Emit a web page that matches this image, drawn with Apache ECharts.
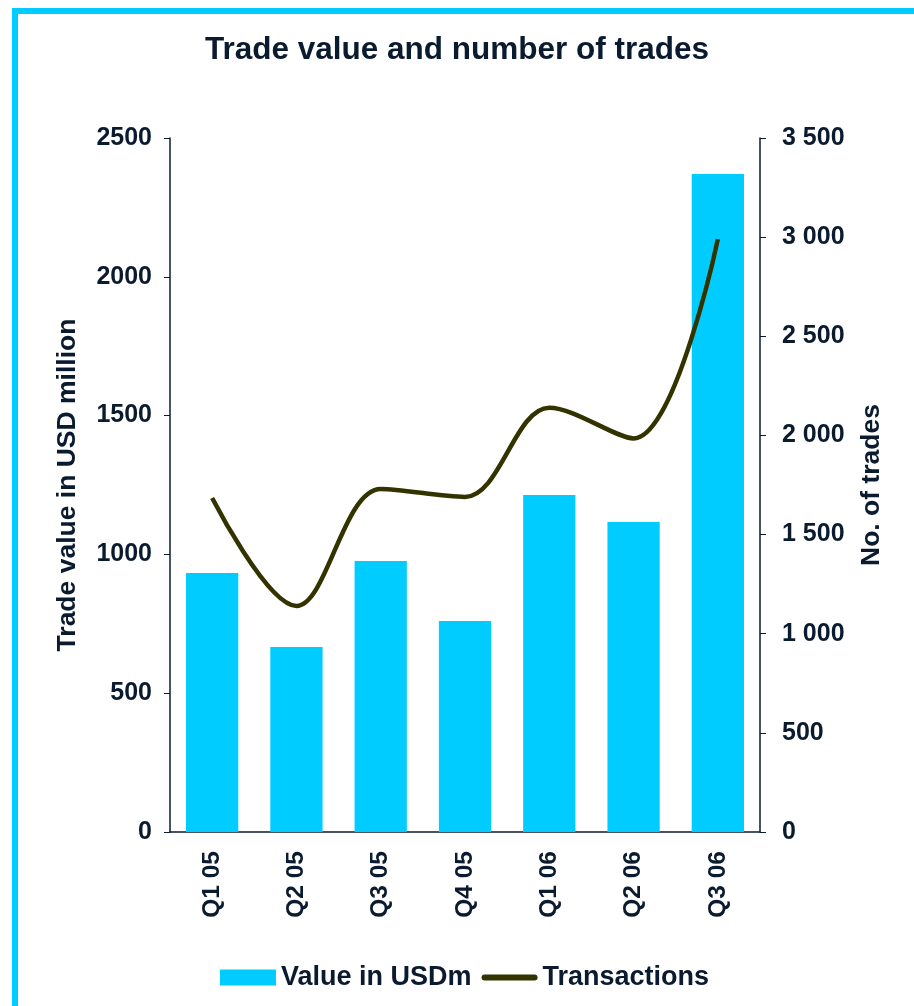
<!DOCTYPE html>
<html><head><meta charset="utf-8">
<script src="https://cdn.jsdelivr.net/npm/echarts@6/dist/echarts.min.js"></script>
<style>
html,body{margin:0;padding:0;background:#fff;}
#frame{position:absolute;left:12px;top:8px;width:914px;height:1006px;border-top:6px solid #00CCFF;border-left:6px solid #00CCFF;box-sizing:border-box;}
#chart{position:absolute;left:0;top:0;width:914px;height:1006px;}
</style></head>
<body>
<div id="frame"></div>
<div id="chart"></div>
<script>
const categories = ['Q1 05','Q2 05','Q3 05','Q4 05','Q1 06','Q2 06','Q3 06'];
const valueUSDm = [933, 666, 976, 760, 1214, 1117, 2370];
const transactions = [1684, 1140, 1730, 1690, 2140, 1985, 2990];
const txt = '#0B1B2F';
const font = '"Liberation Sans", Arial, sans-serif';
const chart = echarts.init(document.getElementById('chart'));
chart.setOption({
  backgroundColor: 'transparent',
  animation: false,
  textStyle: {fontFamily: font},
  title: {text: 'Trade value and number of trades', left: 'center', top: 29,
    textStyle: {fontSize: 31.5, fontWeight: 'bold', color: txt, fontFamily: font}},
  grid: {left: 170, right: 154, top: 138, bottom: 174},
  legend: {top: 964, left: 220, padding: 0, itemGap: 10, itemWidth: 56, itemHeight: 16,
    textStyle: {fontSize: 27, fontWeight: 'bold', color: txt, fontFamily: font, padding: [0, 0, 0, 0]},
    data: [{name: 'Value in USDm', icon: 'rect'},
           {name: 'Transactions', icon: 'path://M3,0 L53,0 A3,3 0 0 1 53,6 L3,6 A3,3 0 0 1 3,0 Z'}]},
  xAxis: {type: 'category', data: categories,
    axisLine: {lineStyle: {color: txt, width: 1.5}},
    axisTick: {show: false},
    axisLabel: {rotate: 90, fontSize: 24.5, fontWeight: 'bold', color: txt, margin: 19}},
  yAxis: [
    {type: 'value', min: 0, max: 2500, interval: 500, position: 'left',
      name: 'Trade value in USD million', nameLocation: 'middle', nameGap: 89, nameRotate: 90,
      nameTextStyle: {fontSize: 26.5, fontWeight: 'bold', color: txt},
      axisLine: {show: true, lineStyle: {color: txt, width: 1.5}},
      axisTick: {show: true, length: 6, lineStyle: {color: txt}},
      splitLine: {show: false},
      axisLabel: {fontSize: 25, fontWeight: 'bold', color: txt, margin: 18, formatter: v => String(v)}},
    {type: 'value', min: 0, max: 3500, interval: 500, position: 'right',
      name: 'No. of trades', nameLocation: 'middle', nameGap: 98, nameRotate: 90,
      nameTextStyle: {fontSize: 26.5, fontWeight: 'bold', color: txt},
      axisLine: {show: true, lineStyle: {color: txt, width: 1.5}},
      axisTick: {show: true, length: 6, lineStyle: {color: txt}},
      splitLine: {show: false},
      axisLabel: {fontSize: 25, fontWeight: 'bold', color: txt, margin: 22,
        formatter: v => String(v).replace(/\B(?=(\d{3})+(?!\d))/g, ' ')}}
  ],
  series: [
    {name: 'Value in USDm', type: 'bar', data: valueUSDm, barWidth: '62%', yAxisIndex: 0,
      itemStyle: {color: '#00CCFF'}},
    {name: 'Transactions', type: 'line', data: transactions, yAxisIndex: 1, smooth: 0.35,
      symbol: 'none', lineStyle: {color: '#333300', width: 4.5}, itemStyle: {color: '#333300'}}
  ]
});
</script>
</body></html>
